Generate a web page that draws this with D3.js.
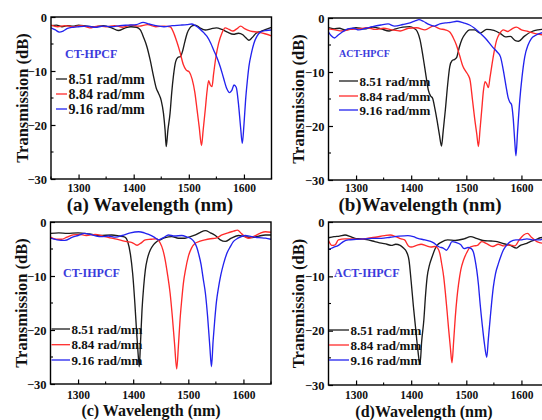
<!DOCTYPE html>
<html>
<head>
<meta charset="utf-8">
<script src="https://cdn.jsdelivr.net/npm/d3@7"></script>
<style>
  html, body { margin: 0; padding: 0; background: #fff; }
  svg { display: block; }
  svg text { font-family: "Liberation Serif", "Times New Roman", Times, serif !important; font-weight: bold; }
</style>
</head>
<body>
<svg id="chart" width="542" height="420"></svg>
<script>
// Axis domains and tick values
const wlDomain = [1250, 1650];
const dbDomain = [-30, 0];
const xTickValues = [1300, 1400, 1500, 1600];
const xMinorValues = [1250, 1350, 1450, 1550, 1650];
const yTickValues = [0, -10, -20, -30];
const yMinorValues = [-5, -15, -25];

// Series (twist rate) and fibre types
const seriesNames = ["8.51 rad/mm", "8.84 rad/mm", "9.16 rad/mm"];
const seriesColors = ["#1c1c1c", "#ff2b2b", "#2323ee"];
const panelNames = ["CT-HPCF", "ACT-HPCF", "CT-IHPCF", "ACT-IHPCF"];
const panelTags = ["(a) ", "(b)", "(c) ", "(d)"];

// Transmission spectra: [wavelength (nm), transmission (dB)]
const ctHpcf851 = [[1250,-1.6],[1260,-1.5],[1270,-1.8],[1280,-1.6],[1290,-1.7],[1300,-1.5],[1315,-1.7],[1330,-1.8],[1345,-1.6],[1360,-2.0],[1372,-2.5],[1385,-2.0],[1395,-1.8],[1405,-1.9],[1412,-2.4],[1418,-3.8],[1424,-5.5],[1430,-8.0],[1436,-11],[1441,-13.2],[1445,-14.1],[1450,-15.5],[1454,-17.8],[1457,-21],[1459,-24],[1462,-21],[1466,-17.8],[1469,-14],[1472,-11],[1476,-8.3],[1480,-7.5],[1485,-7.3],[1489,-6.2],[1493,-4.5],[1497,-3.0],[1502,-2.0],[1507,-1.6],[1512,-1.5],[1520,-2.0],[1530,-2.4],[1540,-2.2],[1550,-2.0],[1560,-2.3],[1570,-2.8],[1581,-3.2],[1590,-3.0],[1598,-3.3],[1604,-3.9],[1609,-4.3],[1615,-3.8],[1622,-3.0],[1630,-2.7],[1640,-2.3],[1650,-1.9]];
const ctHpcf884 = [[1250,-1.5],[1262,-1.8],[1275,-1.6],[1290,-1.8],[1305,-1.6],[1320,-2.0],[1335,-1.7],[1350,-1.8],[1365,-1.6],[1380,-1.9],[1395,-1.5],[1410,-1.7],[1425,-1.4],[1440,-1.8],[1455,-1.7],[1466,-1.8],[1472,-2.8],[1478,-4.5],[1484,-6.5],[1490,-8.8],[1495,-9.8],[1501,-10.2],[1506,-11.5],[1511,-14],[1515,-17.2],[1519,-20.5],[1523,-23.8],[1526,-21],[1530,-17],[1533,-13.8],[1536,-11.8],[1539,-12.6],[1542,-12.9],[1545,-10.5],[1549,-7.5],[1554,-4.9],[1560,-3.0],[1566,-2.0],[1573,-2.3],[1580,-2.6],[1587,-2.2],[1594,-1.7],[1602,-2.2],[1612,-2.6],[1625,-2.8],[1638,-3.1],[1650,-3.5]];
const ctHpcf916 = [[1250,-2.0],[1258,-2.4],[1265,-2.8],[1272,-2.6],[1280,-2.1],[1290,-1.9],[1300,-1.8],[1315,-1.7],[1330,-1.9],[1345,-1.7],[1360,-1.8],[1375,-1.6],[1390,-1.5],[1405,-1.4],[1417,-1.0],[1428,-1.3],[1440,-1.6],[1455,-1.8],[1470,-1.6],[1485,-1.5],[1497,-1.4],[1505,-1.3],[1512,-1.6],[1520,-2.2],[1527,-2.9],[1533,-3.6],[1540,-4.9],[1545,-6.1],[1551,-7.5],[1557,-9.2],[1563,-11.3],[1569,-13.3],[1574,-14],[1578,-13.6],[1582,-12.6],[1586,-13],[1590,-16],[1594,-20.5],[1597,-23.4],[1600,-20],[1603,-15.4],[1606,-12],[1609,-9.2],[1614,-6.5],[1618,-4.9],[1624,-3.5],[1630,-2.8],[1640,-2.5],[1650,-2.4]];

const actHpcf851 = [[1250,-1.8],[1260,-2.0],[1270,-1.9],[1280,-2.2],[1290,-2.0],[1300,-1.8],[1315,-2.0],[1330,-1.7],[1345,-2.0],[1360,-2.4],[1372,-2.0],[1385,-1.7],[1397,-1.6],[1405,-1.9],[1411,-2.5],[1416,-4.0],[1422,-7.5],[1427,-10.8],[1431,-13.3],[1435,-14.4],[1439,-14.9],[1443,-16.8],[1447,-19],[1451,-21.5],[1455,-23.7],[1458,-21],[1462,-17],[1466,-12.5],[1470,-9],[1474,-7.9],[1478,-7.7],[1482,-7.4],[1487,-5.5],[1492,-4.0],[1499,-2.8],[1506,-2.2],[1515,-2.2],[1525,-2.8],[1537,-2.1],[1550,-2.3],[1562,-2.9],[1571,-3.5],[1580,-3.4],[1589,-4.2],[1595,-4.3],[1605,-3.4],[1619,-2.5],[1630,-2.2],[1650,-2.0]];
const actHpcf884 = [[1250,-2.0],[1262,-2.2],[1275,-2.4],[1290,-2.1],[1305,-2.0],[1320,-1.8],[1335,-2.1],[1350,-1.9],[1365,-2.2],[1380,-2.4],[1395,-1.9],[1410,-1.8],[1425,-2.2],[1440,-1.5],[1452,-2.0],[1462,-2.2],[1470,-2.6],[1476,-3.6],[1482,-5.0],[1488,-7.0],[1494,-9.0],[1499,-9.9],[1503,-10.5],[1507,-11.6],[1511,-15],[1515,-18.5],[1519,-21.5],[1522,-23.8],[1525,-20.5],[1528,-17],[1531,-13.5],[1534,-11.8],[1537,-12.2],[1540,-12.9],[1543,-11],[1546,-9],[1550,-6.5],[1555,-4.1],[1561,-2.8],[1567,-2.2],[1575,-2.5],[1583,-2.0],[1591,-1.7],[1600,-2.2],[1612,-2.5],[1625,-2.9],[1638,-3.1],[1650,-2.9]];
const actHpcf916 = [[1250,-2.6],[1255,-3.3],[1261,-3.7],[1267,-3.2],[1275,-2.6],[1285,-2.0],[1295,-1.9],[1305,-2.2],[1318,-1.9],[1330,-1.6],[1345,-1.3],[1358,-1.1],[1370,-1.5],[1385,-1.2],[1398,-0.9],[1408,-0.5],[1414,-0.3],[1422,-0.6],[1432,-1.2],[1442,-1.5],[1452,-1.1],[1462,-0.9],[1472,-0.8],[1483,-0.6],[1495,-0.9],[1506,-1.3],[1515,-1.9],[1525,-2.8],[1535,-3.8],[1547,-5.3],[1556,-6.3],[1562,-7.2],[1567,-9.6],[1572,-12.6],[1576,-14.8],[1579,-15.6],[1582,-16.0],[1585,-18.5],[1588,-23],[1590,-25.5],[1593,-21],[1597,-15.2],[1601,-11],[1606,-7.2],[1612,-5.0],[1618,-3.8],[1626,-3.2],[1635,-2.8],[1650,-2.5]];

const ctIhpcf851 = [[1250,-2.1],[1265,-2.0],[1280,-2.1],[1300,-2.0],[1320,-2.2],[1340,-2.5],[1361,-2.4],[1375,-2.6],[1385,-2.8],[1390,-3.6],[1395,-6],[1399,-9.5],[1403,-15],[1406,-20],[1409,-24.5],[1411,-26.8],[1413,-23],[1416,-16.3],[1419,-12],[1422,-8.9],[1426,-6.7],[1431,-5.2],[1437,-4.2],[1443,-3.6],[1449,-3.3],[1458,-2.9],[1470,-2.7],[1482,-3.0],[1494,-3.0],[1504,-2.7],[1513,-2.4],[1522,-1.9],[1531,-1.6],[1540,-2.0],[1549,-2.5],[1558,-3.3],[1567,-3.6],[1578,-3.0],[1591,-2.5],[1603,-2.7],[1616,-2.9],[1628,-2.6],[1640,-2.4],[1650,-2.4]];
const ctIhpcf884 = [[1250,-2.8],[1260,-3.2],[1270,-3.2],[1280,-2.8],[1291,-2.4],[1302,-2.3],[1315,-2.5],[1331,-2.3],[1345,-2.6],[1361,-3.0],[1375,-3.3],[1386,-3.6],[1398,-3.8],[1407,-4.3],[1414,-3.9],[1422,-3.3],[1432,-3.2],[1442,-3.1],[1449,-3.9],[1454,-5.2],[1458,-7],[1462,-9.5],[1467,-13.2],[1471,-17.5],[1475,-22.5],[1479,-27.2],[1482,-23],[1485,-18.1],[1488,-14.5],[1491,-11.4],[1495,-8.8],[1500,-6.4],[1506,-4.8],[1513,-3.9],[1520,-3.6],[1530,-3.3],[1540,-3.1],[1550,-3.0],[1561,-2.4],[1572,-2.0],[1582,-1.7],[1589,-1.5],[1597,-2.2],[1604,-2.8],[1610,-3.0],[1620,-2.6],[1630,-2.1],[1640,-1.8],[1650,-1.9]];
const ctIhpcf916 = [[1250,-3.0],[1262,-3.3],[1276,-3.4],[1290,-2.8],[1300,-2.5],[1312,-2.1],[1322,-2.3],[1333,-2.6],[1343,-2.7],[1355,-2.6],[1368,-2.8],[1380,-2.5],[1395,-2.0],[1410,-1.8],[1420,-2.0],[1428,-2.3],[1438,-2.8],[1446,-3.3],[1455,-2.9],[1464,-2.4],[1475,-2.6],[1488,-2.5],[1498,-2.8],[1505,-3.1],[1510,-3.6],[1515,-4.6],[1519,-6],[1523,-7.8],[1527,-10.5],[1531,-13.2],[1535,-17.5],[1539,-23],[1542,-26.8],[1545,-22],[1548,-18.1],[1551,-14.8],[1555,-12],[1559,-9.8],[1564,-7.7],[1570,-5.8],[1576,-4.6],[1582,-3.6],[1590,-3.0],[1603,-2.5],[1615,-2.7],[1628,-2.9],[1640,-3.0],[1650,-3.2]];

const actIhpcf851 = [[1250,-2.9],[1260,-2.7],[1270,-2.6],[1280,-2.4],[1290,-2.7],[1298,-3.0],[1310,-3.1],[1322,-3.3],[1334,-3.6],[1346,-3.9],[1356,-4.1],[1364,-4.3],[1372,-4.1],[1380,-4.3],[1386,-4.8],[1391,-5.4],[1396,-7],[1400,-11],[1404,-15.5],[1408,-19.5],[1412,-23.5],[1416,-26.2],[1419,-22],[1423,-18],[1426,-13.5],[1429,-10.1],[1433,-8],[1438,-6.4],[1443,-5.0],[1447,-4.3],[1455,-3.7],[1466,-3.3],[1480,-3.4],[1496,-3.1],[1508,-2.7],[1518,-3.0],[1530,-3.4],[1545,-3.5],[1556,-3.6],[1568,-4.0],[1580,-4.3],[1591,-4.8],[1598,-4.3],[1608,-4.0],[1616,-3.6],[1625,-3.3],[1634,-2.9],[1642,-2.8],[1650,-2.7]];
const actIhpcf884 = [[1250,-3.4],[1256,-4.3],[1262,-4.2],[1268,-3.3],[1280,-3.1],[1291,-3.1],[1305,-3.2],[1320,-3.0],[1335,-2.8],[1352,-2.5],[1362,-2.4],[1372,-2.7],[1382,-3.1],[1388,-3.3],[1395,-4.4],[1400,-4.6],[1410,-4.3],[1418,-4.1],[1428,-4.4],[1436,-4.6],[1443,-4.5],[1448,-4.8],[1452,-5.8],[1455,-7.5],[1459,-10.1],[1462,-13],[1465,-16.3],[1468,-19.8],[1471,-23],[1474,-25.9],[1477,-22],[1480,-17.5],[1483,-14],[1486,-11.4],[1490,-8.8],[1495,-7],[1501,-5.6],[1507,-4.6],[1514,-4.4],[1520,-4.3],[1528,-3.6],[1537,-4.0],[1548,-4.5],[1558,-4.1],[1568,-4.4],[1578,-4.2],[1588,-4.4],[1596,-3.3],[1604,-2.4],[1611,-2.1],[1618,-2.8],[1628,-3.6],[1640,-3.9],[1650,-3.5]];
const actIhpcf916 = [[1250,-5.1],[1258,-4.7],[1268,-4.3],[1277,-3.6],[1286,-3.3],[1300,-3.2],[1316,-3.1],[1330,-3.0],[1346,-3.0],[1362,-2.8],[1378,-2.6],[1394,-2.5],[1404,-2.7],[1412,-3.0],[1425,-3.3],[1440,-3.8],[1451,-4.6],[1458,-4.8],[1464,-5.2],[1469,-4.5],[1474,-3.6],[1482,-3.8],[1490,-4.2],[1496,-4.9],[1503,-4.7],[1509,-4.9],[1513,-5.6],[1516,-7],[1519,-8.9],[1522,-11.5],[1525,-15],[1529,-19],[1533,-22.5],[1537,-24.9],[1540,-21.5],[1543,-18.1],[1546,-14.8],[1549,-12],[1553,-9.5],[1558,-7.7],[1563,-6.2],[1567,-5.2],[1573,-4.3],[1580,-3.6],[1590,-3.3],[1598,-3.3],[1610,-3.1],[1622,-3.3],[1634,-3.3],[1642,-2.9],[1650,-2.5]];

const panelSeries = [
  [ctHpcf851, ctHpcf884, ctHpcf916],
  [actHpcf851, actHpcf884, actHpcf916],
  [ctIhpcf851, ctIhpcf884, ctIhpcf916],
  [actIhpcf851, actIhpcf884, actIhpcf916]
];

// Panel geometry and text placement
const plotW = 220.5;
const layout = [
  { left: 51,    top: 17,  bottom: 179, yLabelX: 28,  xTickY: 191.5, tickSize: 11.5, xLabelX: 150, xLabelY: 211, xLabelSize: 19,
    nameX: 65,  nameY: 57.5, nameSize: 12, legX0: 56,  legX1: 67,  legY: [79, 94, 109], legSize: 14 },
  { left: 328.5, top: 18,  bottom: 180, yLabelX: 304, xTickY: 192, tickSize: 11.5, xLabelX: 420, xLabelY: 211, xLabelSize: 19,
    nameX: 339, nameY: 56.5, nameSize: 10, legX0: 339, legX1: 358, legY: [81, 96, 110], legSize: 13 },
  { left: 50.5,  top: 222, bottom: 384, yLabelX: 27,  xTickY: 398.5, tickSize: 11.5, xLabelX: 151, xLabelY: 416, xLabelSize: 16,
    nameX: 63,  nameY: 277,  nameSize: 12, legX0: 51.5, legX1: 70, legY: [329, 344.7, 360], legSize: 13 },
  { left: 328.5, top: 222, bottom: 385, yLabelX: 304, xTickY: 399, tickSize: 11.5, xLabelX: 424, xLabelY: 416.5, xLabelSize: 16,
    nameX: 334, nameY: 277,  nameSize: 12, legX0: 329, legX1: 349, legY: [330, 345, 360], legSize: 13 }
];

const serif = "'Liberation Serif', 'Times New Roman', Times, serif";
const svg = d3.select("#chart");

layout.forEach((L, i) => {
  const x = d3.scaleLinear().domain(wlDomain).range([L.left, L.left + plotW]);
  const y = d3.scaleLinear().domain(dbDomain).range([L.bottom, L.top]);
  const g = svg.append("g").attr("class", "panel");

  const clipId = "clip" + i;
  g.append("clipPath").attr("id", clipId)
    .append("rect")
    .attr("x", x(wlDomain[0])).attr("y", y(dbDomain[1]))
    .attr("width", x(wlDomain[1]) - x(wlDomain[0]))
    .attr("height", y(dbDomain[0]) - y(dbDomain[1]));

  const line = d3.line()
    .x(d => x(d[0]))
    .y(d => y(d[1]))
    .curve(d3.curveMonotoneX);

  g.append("g").attr("clip-path", `url(#${clipId})`)
    .selectAll("path")
    .data(panelSeries[i])
    .join("path")
    .attr("d", line)
    .attr("fill", "none")
    .attr("stroke", (d, k) => seriesColors[k])
    .attr("stroke-width", 1.35)
    .attr("stroke-linejoin", "round");

  // Frame
  g.append("rect")
    .attr("x", x(wlDomain[0])).attr("y", y(dbDomain[1]))
    .attr("width", x(wlDomain[1]) - x(wlDomain[0]))
    .attr("height", y(dbDomain[0]) - y(dbDomain[1]))
    .attr("fill", "none").attr("stroke", "#000").attr("stroke-width", 1.4);

  // Minor ticks (inward, unlabelled)
  g.append("g").selectAll("line.xminor").data(xMinorValues).join("line")
    .attr("x1", d => x(d)).attr("x2", d => x(d))
    .attr("y1", L.bottom).attr("y2", L.bottom - 2.5)
    .attr("stroke", "#000").attr("stroke-width", 1.1);
  g.append("g").selectAll("line.yminor").data(yMinorValues).join("line")
    .attr("x1", L.left).attr("x2", L.left + 2.5)
    .attr("y1", d => y(d)).attr("y2", d => y(d))
    .attr("stroke", "#000").attr("stroke-width", 1.1);

  // Bottom axis: inward major ticks
  const xAxis = d3.axisBottom(x).tickValues(xTickValues).tickSize(-4.5).tickPadding(6).tickFormat(d3.format("d"));
  const xa = g.append("g").attr("transform", `translate(0,${L.bottom})`).call(xAxis);
  xa.attr("font-family", null).attr("font-size", null);
  xa.select(".domain").remove();
  xa.selectAll("line").attr("stroke-width", 1.2);
  xa.selectAll("text")
    .attr("y", L.xTickY - L.bottom).attr("dy", null)
    .style("font-family", serif).style("font-weight", "bold")
    .style("font-size", L.tickSize + "px").attr("fill", "#111");

  // Left axis: inward major ticks
  const yAxis = d3.axisLeft(y).tickValues(yTickValues).tickSize(-4.5).tickPadding(4).tickFormat(d3.format("d"));
  const ya = g.append("g").attr("transform", `translate(${L.left},0)`).call(yAxis);
  ya.attr("font-family", null).attr("font-size", null);
  ya.select(".domain").remove();
  ya.selectAll("line").attr("stroke-width", 1.2);
  ya.selectAll("text")
    .style("font-family", serif).style("font-weight", "bold")
    .style("font-size", "12.5px").attr("fill", "#111");

  // Axis titles
  g.append("text")
    .attr("transform", `translate(${L.yLabelX},${(L.top + L.bottom) / 2}) rotate(-90)`)
    .attr("text-anchor", "middle")
    .style("font-family", serif).style("font-weight", "bold").style("font-size", "16.5px")
    .attr("fill", "#111")
    .text("Transmission (dB)");
  g.append("text")
    .attr("x", L.xLabelX).attr("y", L.xLabelY)
    .attr("text-anchor", "middle")
    .style("font-family", serif).style("font-weight", "bold").style("font-size", L.xLabelSize + "px")
    .attr("fill", "#111")
    .text(panelTags[i] + "Wavelength (nm)");

  // Fibre name
  g.append("text")
    .attr("x", L.nameX).attr("y", L.nameY)
    .style("font-family", serif).style("font-weight", "bold").style("font-size", L.nameSize + "px")
    .attr("fill", "#3b3bdc")
    .text(panelNames[i]);

  // Legend
  const leg = g.append("g");
  seriesNames.forEach((name, k) => {
    leg.append("line")
      .attr("x1", L.legX0).attr("x2", L.legX1)
      .attr("y1", L.legY[k]).attr("y2", L.legY[k])
      .attr("stroke", seriesColors[k]).attr("stroke-width", 1.3);
    leg.append("text")
      .attr("x", L.legX1 + 1.5).attr("y", L.legY[k])
      .attr("dy", "0.35em")
      .style("font-family", serif).style("font-weight", "bold").style("font-size", L.legSize + "px")
      .attr("fill", "#111")
      .text(name);
  });
});
</script>
</body>
</html>
